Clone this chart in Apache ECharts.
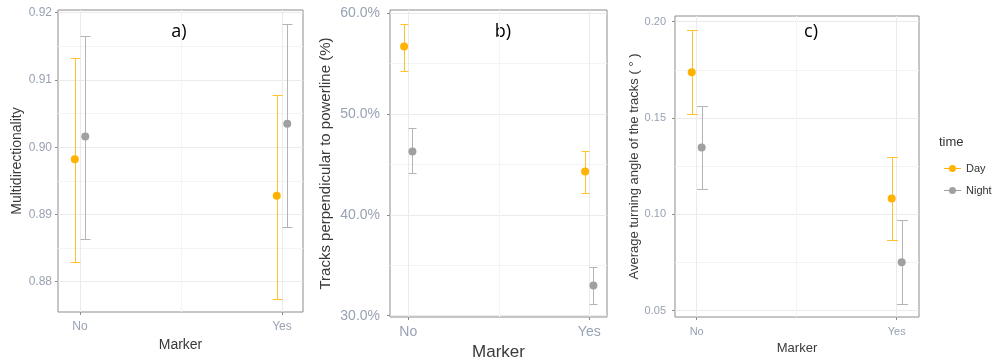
<!DOCTYPE html>
<html>
<head>
<meta charset="utf-8">
<script src="https://cdn.jsdelivr.net/npm/echarts@6/dist/echarts.min.js"></script>
<style>
  html, body { margin: 0; padding: 0; background: #fff; }
  #chart { width: 994px; height: 360px; }
</style>
</head>
<body>
<div id="chart"></div>
<script>
// categories
const markers = ['No', 'Yes'];

// a) multidirectionality
const multiDay = [0.8982, 0.8928];
const multiDayLo = [0.8830, 0.8775];
const multiDayHi = [0.9132, 0.9077];
const multiNight = [0.9016, 0.9035];
const multiNightLo = [0.8863, 0.8881];
const multiNightHi = [0.9165, 0.9183];
const multiTicks = [0.88, 0.89, 0.90, 0.91, 0.92];
const multiMinor = [0.885, 0.895, 0.905, 0.915];

// b) tracks perpendicular to powerline (%)
const percDay = [56.7, 44.3];
const percDayLo = [54.3, 42.2];
const percDayHi = [58.9, 46.3];
const percNight = [46.3, 33.0];
const percNightLo = [44.2, 31.2];
const percNightHi = [48.6, 34.8];
const percTicks = [30, 40, 50, 60];
const percMinor = [35, 45, 55];

// c) average turning angle
const turnDay = [0.1737, 0.1082];
const turnDayLo = [0.1519, 0.0865];
const turnDayHi = [0.1957, 0.1298];
const turnNight = [0.1347, 0.0752];
const turnNightLo = [0.1131, 0.0534];
const turnNightHi = [0.1564, 0.0969];
const turnTicks = [0.05, 0.10, 0.15, 0.20];
const turnMinor = [0.075, 0.125, 0.175];

const DAY = '#FFB300';
const DAY_BAR = '#FFC22E';
const NIGHT = '#A0A0A0';
const NIGHT_BAR = '#B4B4B4';
const FONT = '"Liberation Sans", Arial, sans-serif';
const TICK_COLOR = '#98a2b3';
const GRID_MAJOR = '#ebebeb';
const GRID_MINOR = '#f4f4f4';

// vertical error bar with caps, drawn from [x, lo, hi]
const errorBar = (cap, color) => (params, api) => {
  const x = Math.round(api.coord([api.value(0), api.value(2)])[0]) + 0.5;
  const yTop = Math.round(api.coord([api.value(0), api.value(2)])[1]) + 0.5;
  const yBot = Math.round(api.coord([api.value(0), api.value(1)])[1]) + 0.5;
  const st = { stroke: color, lineWidth: 1 };
  return {
    type: 'group',
    children: [
      { type: 'line', shape: { x1: x, y1: yTop, x2: x, y2: yBot }, style: st },
      { type: 'line', shape: { x1: x - cap, y1: yTop, x2: x + cap, y2: yTop }, style: st },
      { type: 'line', shape: { x1: x - cap, y1: yBot, x2: x + cap, y2: yBot }, style: st }
    ]
  };
};

const panels = [
  {
    grid: { left: 58, top: 10, width: 245, height: 302 },
    x: [0.891, 2.104], y: [0.8755, 0.9204],
    ticks: multiTicks, minor: multiMinor, fmt: v => v.toFixed(2),
    day: [multiDay, multiDayLo, multiDayHi], night: [multiNight, multiNightLo, multiNightHi],
    dodge: 0.026, cap: 5, sym: 8,
    name: 'Multidirectionality', nameSize: 14, nameGap: 34,
    tickSize: 12, yMargin: 6, xMargin: 9,
    xName: 'Marker', xNameSize: 14, xNameGap: 22
  },
  {
    grid: { left: 390, top: 10, width: 217, height: 307 },
    x: [0.899, 2.098], y: [29.87, 60.33],
    ticks: percTicks, minor: percMinor, fmt: v => v.toFixed(1) + '%',
    day: [percDay, percDayLo, percDayHi], night: [percNight, percNightLo, percNightHi],
    dodge: 0.023, cap: 4, sym: 8,
    name: 'Tracks perpendicular to powerline (%)', nameSize: 15, nameGap: 57,
    tickSize: 14, yMargin: 10, xMargin: 8,
    xName: 'Marker', xNameSize: 17, xNameGap: 21
  },
  {
    grid: { left: 675, top: 16, width: 244, height: 301 },
    x: [0.8915, 2.1115], y: [0.04673, 0.20296],
    ticks: turnTicks, minor: turnMinor, fmt: v => v.toFixed(2),
    day: [turnDay, turnDayLo, turnDayHi], night: [turnNight, turnNightLo, turnNightHi],
    dodge: 0.025, cap: 5.5, sym: 8,
    name: 'Average turning angle of the tracks ( \u00B0 )', nameSize: 13, nameGap: 34,
    tickSize: 11, yMargin: 9, xMargin: 9,
    xName: 'Marker', xNameSize: 13, xNameGap: 25
  }
];

const grid = [], xAxis = [], yAxis = [], series = [];

panels.forEach((p, i) => {
  grid.push(Object.assign({
    show: true, borderColor: '#8c8c8c', borderWidth: 1, backgroundColor: '#fff',
    containLabel: false, outerBoundsMode: 'none'
  }, p.grid));

  // main x axis
  xAxis.push({
    type: 'value', gridIndex: i, min: p.x[0], max: p.x[1],
    name: p.xName, nameLocation: 'middle', nameGap: p.xNameGap,
    nameTextStyle: { fontFamily: FONT, fontSize: p.xNameSize, color: '#3a3a3a' },
    axisLine: { show: false },
    axisTick: { show: true, length: 3, lineStyle: { color: '#8c8c8c' }, customValues: [1, 2] },
    axisLabel: { customValues: [1, 2], formatter: v => markers[Math.round(v) - 1],
      fontFamily: FONT, fontSize: p.tickSize, color: TICK_COLOR, margin: p.xMargin },
    splitLine: { show: true, lineStyle: { color: GRID_MAJOR } }
  });
  // minor x grid
  xAxis.push({
    type: 'value', gridIndex: i, min: p.x[0], max: p.x[1], position: 'top',
    axisLine: { show: false }, axisLabel: { show: false },
    axisTick: { show: false, customValues: [1.5] },
    splitLine: { show: true, lineStyle: { color: GRID_MINOR } }
  });
  // main y axis
  yAxis.push({
    type: 'value', gridIndex: i, min: p.y[0], max: p.y[1],
    name: p.name, nameLocation: 'middle', nameGap: p.nameGap,
    nameTextStyle: { fontFamily: FONT, fontSize: p.nameSize, color: '#3a3a3a' },
    axisLine: { show: false },
    axisTick: { show: true, length: 3, lineStyle: { color: '#8c8c8c' }, customValues: p.ticks },
    axisLabel: { customValues: p.ticks, formatter: p.fmt,
      fontFamily: FONT, fontSize: p.tickSize, color: TICK_COLOR, margin: p.yMargin },
    splitLine: { show: true, lineStyle: { color: GRID_MAJOR } }
  });
  // minor y grid
  yAxis.push({
    type: 'value', gridIndex: i, min: p.y[0], max: p.y[1], position: 'right',
    axisLine: { show: false }, axisLabel: { show: false },
    axisTick: { show: false, customValues: p.minor },
    splitLine: { show: true, lineStyle: { color: GRID_MINOR } }
  });

  const groups = [
    { name: 'Day', vals: p.day, off: -p.dodge, color: DAY, bar: DAY_BAR },
    { name: 'Night', vals: p.night, off: p.dodge, color: NIGHT, bar: NIGHT_BAR }
  ];
  groups.forEach(g => {
    series.push({
      name: g.name + ' range', type: 'custom', xAxisIndex: 2 * i, yAxisIndex: 2 * i,
      renderItem: errorBar(p.cap, g.bar), silent: true, z: 3,
      encode: { x: 0, y: [1, 2] },
      data: markers.map((m, k) => [k + 1 + g.off, g.vals[1][k], g.vals[2][k]])
    });
  });
  groups.forEach(g => {
    series.push({
      name: g.name, type: 'scatter', xAxisIndex: 2 * i, yAxisIndex: 2 * i,
      symbolSize: p.sym, itemStyle: { color: g.color, opacity: 1 }, z: 4, silent: true,
      data: markers.map((m, k) => [k + 1 + g.off, g.vals[0][k]])
    });
  });
});

const legendIcon = 'path://M0,3 L17,3 L17,4 L0,4 Z M8.5,0 A3.5,3.5 0 1 1 8.49,0 Z';

const option = {
  animation: false,
  backgroundColor: '#fff',
  textStyle: { fontFamily: FONT },
  grid, xAxis, yAxis, series,
  legend: {
    data: ['Day', 'Night'], orient: 'vertical', left: 939, top: 158,
    icon: legendIcon, itemWidth: 17, itemHeight: 7, itemGap: 11,
    textStyle: { fontFamily: FONT, fontSize: 11, color: '#333' }
  },
  graphic: [
    { type: 'text', x: 179, y: 32, style: { text: 'a)', font: '18px "Open Sans", sans-serif', fill: '#000', align: 'center', verticalAlign: 'middle' } },
    { type: 'text', x: 503, y: 32, style: { text: 'b)', font: '18px "Open Sans", sans-serif', fill: '#000', align: 'center', verticalAlign: 'middle' } },
    { type: 'text', x: 811, y: 32, style: { text: 'c)', font: '18px "Open Sans", sans-serif', fill: '#000', align: 'center', verticalAlign: 'middle' } },
    { type: 'text', x: 939, y: 142, style: { text: 'time', font: '13px "Liberation Sans", Arial, sans-serif', fill: '#333', verticalAlign: 'middle' } }
  ]
};

const myChart = echarts.init(document.getElementById('chart'));
myChart.setOption(option);
</script>
</body>
</html>
